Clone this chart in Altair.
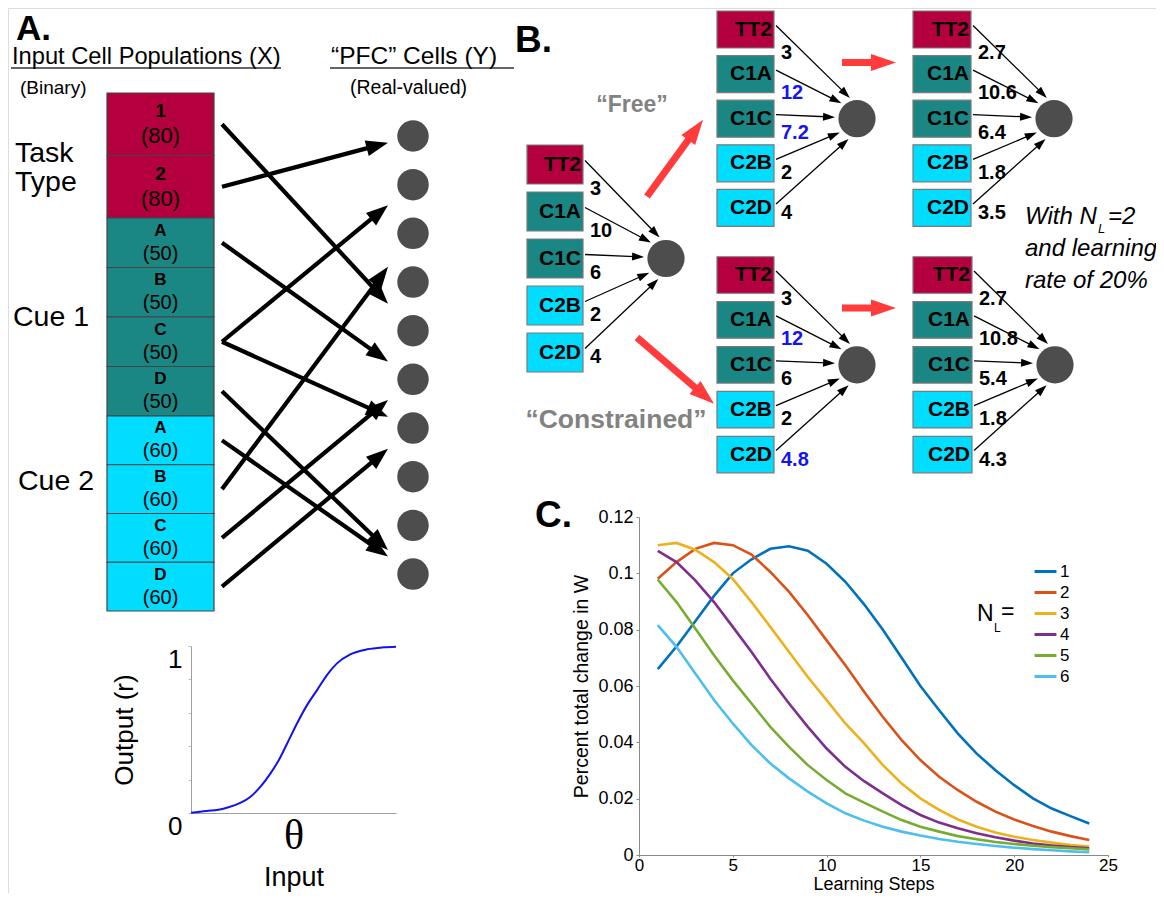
import math
import altair as alt
import pandas as pd

# ======================= DATA =======================
# Panel A
A_box_letters = ["1", "2", "A", "B", "C", "D", "A", "B", "C", "D"]
A_box_counts = [80, 80, 50, 50, 50, 50, 60, 60, 60, 60]
A_box_group = [0, 0, 1, 1, 1, 1, 2, 2, 2, 2]
A_group_labels = [["Task", "Type"], ["Cue 1"], ["Cue 2"]]
A_link_src = [0, 1, 2, 4, 4, 5, 6, 7, 8, 9]
A_link_dst = [4, 0, 5, 1, 6, 9, 9, 2, 5, 6]
A_n_cells = 10

# Panel B
B_inputs = ["TT2", "C1A", "C1C", "C2B", "C2D"]
B_input_group = [0, 1, 1, 2, 2]
B_w_init = [3, 10, 6, 2, 4]
B_w_free_1 = [3, 12, 7.2, 2, 4]
B_w_free_2 = [2.7, 10.6, 6.4, 1.8, 3.5]
B_w_con_1 = [3, 12, 6, 2, 4.8]
B_w_con_2 = [2.7, 10.8, 5.4, 1.8, 4.3]
B_chg_free_1 = [0, 1, 1, 0, 0]
B_chg_con_1 = [0, 1, 0, 0, 1]

# Panel C
C_steps = list(range(1, 25))
C_names = ["1", "2", "3", "4", "5", "6"]
C_nl1 = [0.066, 0.074, 0.083, 0.092, 0.100, 0.105, 0.1087, 0.1096, 0.108, 0.1034, 0.097, 0.089,
         0.080, 0.070, 0.060, 0.0514, 0.0431, 0.036, 0.0301, 0.0248, 0.0201, 0.0165, 0.0138, 0.0112]
C_nl2 = [0.0981, 0.104, 0.1087, 0.1108, 0.110, 0.1067, 0.1005, 0.0934, 0.0851, 0.0762, 0.0674, 0.058,
         0.049, 0.0408, 0.0337, 0.0278, 0.023, 0.0189, 0.0154, 0.0126, 0.0103, 0.0083, 0.0067, 0.0053]
C_nl3 = [0.110, 0.1108, 0.1084, 0.104, 0.098, 0.0898, 0.081, 0.0721, 0.0632, 0.055, 0.0467, 0.0396,
         0.0319, 0.0254, 0.0201, 0.016, 0.0126, 0.010, 0.008, 0.0065, 0.0053, 0.0044, 0.0035, 0.003]
C_nl4 = [0.108, 0.104, 0.0975, 0.0898, 0.081, 0.0721, 0.0626, 0.0538, 0.0455, 0.0378, 0.0313, 0.0262,
         0.0219, 0.0177, 0.0142, 0.0115, 0.0095, 0.0077, 0.0063, 0.0051, 0.0041, 0.0034, 0.0028, 0.0024]
C_nl5 = [0.0978, 0.0898, 0.0804, 0.0709, 0.062, 0.0538, 0.0455, 0.0384, 0.0319, 0.0266, 0.0219, 0.0186,
         0.0154, 0.0124, 0.010, 0.0083, 0.0067, 0.0056, 0.0046, 0.0039, 0.0033, 0.0028, 0.0024, 0.002]
C_nl6 = [0.0816, 0.0739, 0.0644, 0.055, 0.0467, 0.039, 0.0325, 0.0272, 0.0225, 0.0183, 0.0148, 0.0122,
         0.010, 0.0083, 0.0069, 0.0057, 0.0047, 0.0039, 0.0032, 0.0026, 0.0021, 0.0017, 0.0013, 0.001]
C_colors = ["#0072BD", "#D95319", "#EDB120", "#7E2F8E", "#77AC30", "#4DBEEE"]
C_x_ticks = [0, 5, 10, 15, 20, 25]
C_y_ticks = [0, 0.02, 0.04, 0.06, 0.08, 0.1, 0.12]

# Sigmoid inset
S_input = [0, 0.076, 0.158, 0.24, 0.289, 0.338, 0.387, 0.428, 0.469, 0.517, 0.566, 0.615,
           0.663, 0.712, 0.777, 0.859, 0.94, 1.0]
S_output = [0.002, 0.012, 0.026, 0.06, 0.096, 0.156, 0.236, 0.316, 0.416, 0.536, 0.646, 0.736,
            0.826, 0.896, 0.95, 0.98, 0.992, 0.996]
S_y_ticks = [0, 0.2, 0.4, 0.6, 0.8, 1]

# ======================= LAYOUT / STYLE =======================
FONT = "Liberation Sans"
GROUP_COLORS = ["#B4003E", "#1A8784", "#00DDFF"]
CELL_COLOR = "#4D4D4D"
RED = "#FF3B3B"
BLUE_TXT = "#1414F0"
GRAY_TXT = "#828282"

CX = alt.Scale(domain=[8, 1156], range=[0, 1148], nice=False, zero=False)
CY = alt.Scale(domain=[8, 893], range=[0, 885], nice=False, zero=False)


def ex(f="x"):
    return alt.X(f"{f}:Q", scale=CX, axis=None)


def ey(f="y"):
    return alt.Y(f"{f}:Q", scale=CY, axis=None)


texts, rects, rules, circles = [], [], [], []
arrow_sets = []


def T(x, y, text, size, color="black", weight="normal", italic=False, align="left", font=FONT):
    texts.append(dict(x=x, y=y, text=str(text), size=size, color=color, weight=weight,
                      italic=italic, align=align, font=font))


# ---------- Panel A ----------
T(16, 29, "A.", 35, weight="bold")
T(12, 57, "Input Cell Populations (X)", 23.7)
T(20, 88, "(Binary)", 19)
T(331, 57, "\u201cPFC\u201d Cells (Y)", 24.5)
T(350, 88, "(Real-valued)", 19.5)
rules.append(dict(x=11, y=68, x2=281, y2=68, color="#333333", w=1.5))
rules.append(dict(x=330, y=68, x2=514, y2=68, color="#333333", w=1.5))

A_BOX_L, A_BOX_R, A_BOX_TOP = 107, 214, 93
A_GROUP_BOX_H = [62.5, 49.5, 48.75]
A_GROUP_LABEL_X = [15, 13, 18]
A_GROUP_LABEL_Y = [153, 317, 481]
A_CELL_X, A_CELL_Y0, A_CELL_DY, A_CELL_D = 413, 136, 48.67, 35.5
A_LINK_X0, A_LINK_TIP_X = 222, 388

box_centers = []
ytop = A_BOX_TOP
for i, g in enumerate(A_box_group):
    h = A_GROUP_BOX_H[g]
    rects.append(dict(x=A_BOX_L, y=ytop, x2=A_BOX_R, y2=ytop + h, color=GROUP_COLORS[g],
                      stroke="#444444"))
    c = ytop + h / 2
    box_centers.append(c)
    big = g == 0
    T((A_BOX_L + A_BOX_R) / 2, c - 13 if big else c - 12, A_box_letters[i], 19 if big else 17,
      weight="bold", align="center")
    T((A_BOX_L + A_BOX_R) / 2, c + 12 if big else c + 11, f"({A_box_counts[i]})", 22 if big else 20,
      align="center")
    ytop += h

for g, lines in enumerate(A_group_labels):
    for k, line in enumerate(lines):
        T(A_GROUP_LABEL_X[g], A_GROUP_LABEL_Y[g] + 29 * k, line, 28.5)

cell_y = [A_CELL_Y0 + A_CELL_DY * i for i in range(A_n_cells)]
for yy in cell_y:
    circles.append(dict(x=A_CELL_X, y=yy, size=math.pi * (A_CELL_D / 2) ** 2))

segA = []
for s, d in zip(A_link_src, A_link_dst):
    y0 = box_centers[s]
    y1 = y0 + (cell_y[d] - y0) * (A_LINK_TIP_X - A_LINK_X0) / (A_CELL_X - A_LINK_X0)
    segA.append((A_LINK_X0, y0, A_LINK_TIP_X, y1))
arrow_sets.append(dict(segs=segA, color="black", width=4.2, head_len=22, head_w=16))

# ---------- Panel B ----------
T(515, 41, "B.", 37, weight="bold")
B_nodes = [
    dict(w=B_w_init, chg=[0] * 5, l=527, r=583, y0=164.5, dy=47.0, h=39),
    dict(w=B_w_free_1, chg=B_chg_free_1, l=717, r=774, y0=29.5, dy=44.6, h=37),
    dict(w=B_w_free_2, chg=[0] * 5, l=913, r=971, y0=29.5, dy=44.6, h=37),
    dict(w=B_w_con_1, chg=B_chg_con_1, l=717, r=774, y0=275, dy=44.9, h=36.5),
    dict(w=B_w_con_2, chg=[0] * 5, l=913, r=972, y0=275, dy=44.9, h=36.5),
]
B_R = 21
segB = []
for nd in B_nodes:
    ccx, ccy = nd["r"] + 83, nd["y0"] + 2 * nd["dy"]
    nd["cx"], nd["cy"] = ccx, ccy
    circles.append(dict(x=ccx, y=ccy, size=math.pi * B_R ** 2))
    for i, name in enumerate(B_inputs):
        yc = nd["y0"] + i * nd["dy"]
        rects.append(dict(x=nd["l"], y=yc - nd["h"] / 2, x2=nd["r"], y2=yc + nd["h"] / 2,
                          color=GROUP_COLORS[B_input_group[i]], stroke="#7a7a7a"))
        T(nd["r"] - 2, yc, name, 21, weight="bold", align="right")
        sx, sy = nd["r"] + 2, yc - 4
        a = math.atan2(sy - ccy, sx - ccx)
        dev = (a % (2 * math.pi)) - math.pi
        ta = math.pi + dev * 1.45
        tx, ty = ccx + (B_R + 1) * math.cos(ta), ccy + (B_R + 1) * math.sin(ta)
        segB.append((sx, sy, tx, ty))
        lx = nd["r"] + 7
        ly = sy + (ty - sy) * (lx + 5 - sx) / (tx - sx) + 18
        T(lx, ly, f"{nd['w'][i]:g}", 20, color=BLUE_TXT if nd["chg"][i] else "black", weight="bold")
arrow_sets.append(dict(segs=segB, color="black", width=1.3, head_len=12, head_w=8))

n0, n1, n2, n3, n4 = B_nodes
segR = [
    (n0["r"] + 64, n0["y0"] + 32, n1["l"] - 14, n1["cy"] + 1),
    (n0["r"] + 54, n0["y0"] + 4 * n0["dy"] - 15, n3["l"] - 3, n3["cy"] + 39),
    (n1["r"] + 68, n1["y0"] + 33, n1["r"] + 122, n1["y0"] + 33),
    (n3["r"] + 68, n3["y0"] + 33, n3["r"] + 122, n3["y0"] + 33),
]
arrow_sets.append(dict(segs=segR, color=RED, width=7, head_len=25, head_w=17))

T(632, 105, "\u201cFree\u201d", 23, color=GRAY_TXT, weight="bold", align="center")
T(616, 420, "\u201cConstrained\u201d", 26.5, color=GRAY_TXT, weight="bold", align="center")

T(1025, 217, "With N", 24, italic=True)
T(1098, 229, "L", 13, italic=True)
T(1108, 217, "=2", 24, italic=True)
T(1025, 249, "and learning", 24, italic=True)
T(1025, 281, "rate of 20%", 24, italic=True)

# ---------- Panel C labels ----------
T(535, 516, "C.", 37, weight="bold")
T(977, 614, "N", 23)
T(994, 628, "L", 12)
T(1001, 612, "=", 23)

# ======================= BUILD CANVAS LAYERS =======================
layers = []
layers.append(
    alt.Chart(pd.DataFrame(rects)).mark_rect(strokeWidth=1.2).encode(
        x=ex(), y=ey(), x2="x2:Q", y2="y2:Q",
        color=alt.Color("color:N", scale=None),
        stroke=alt.Stroke("stroke:N", scale=None))
)
layers.append(
    alt.Chart(pd.DataFrame(rules)).mark_rule(strokeCap="butt").encode(
        x=ex(), y=ey(), x2="x2:Q", y2="y2:Q",
        color=alt.Color("color:N", scale=None),
        strokeWidth=alt.StrokeWidth("w:Q", scale=None))
)
layers.append(
    alt.Chart(pd.DataFrame(circles)).mark_circle(opacity=1, color=CELL_COLOR).encode(
        x=ex(), y=ey(), size=alt.Size("size:Q", scale=None))
)

for aset in arrow_sets:
    shafts, heads = [], []
    hl = aset["head_len"]
    for (x0, y0, x1, y1) in aset["segs"]:
        dx, dy = x1 - x0, y1 - y0
        L = math.hypot(dx, dy)
        ux, uy = dx / L, dy / L
        shafts.append(dict(x=x0, y=y0, x2=x1 - ux * hl * 0.75, y2=y1 - uy * hl * 0.75))
        heads.append(dict(x=x1, y=y1, ang=math.degrees(math.atan2(ux, -uy)) % 360))
    hw = aset["head_w"] / hl
    shape = f"M0,0L{hw:.3f},2L{-hw:.3f},2Z"
    layers.append(
        alt.Chart(pd.DataFrame(shafts)).mark_rule(color=aset["color"], strokeWidth=aset["width"],
                                                  strokeCap="butt").encode(
            x=ex(), y=ey(), x2="x2:Q", y2="y2:Q")
    )
    layers.append(
        alt.Chart(pd.DataFrame(heads)).mark_point(shape=shape, filled=True, opacity=1,
                                                  color=aset["color"], strokeWidth=0,
                                                  size=hl ** 2).encode(
            x=ex(), y=ey(), angle=alt.Angle("ang:Q", scale=None))
    )

tdf = pd.DataFrame(texts)
for (weight, italic, align, font), sub in tdf.groupby(["weight", "italic", "align", "font"]):
    layers.append(
        alt.Chart(sub.drop(columns=["weight", "italic", "align", "font"])).mark_text(
            font=font, fontWeight=weight, fontStyle="italic" if italic else "normal",
            align=align, baseline="middle").encode(
            x=ex(), y=ey(), text="text:N",
            size=alt.Size("size:Q", scale=None),
            color=alt.Color("color:N", scale=None))
    )

canvas = alt.layer(*layers)

# ======================= PANEL C (line chart) =======================
c_rows = []
for name, series in zip(C_names, [C_nl1, C_nl2, C_nl3, C_nl4, C_nl5, C_nl6]):
    for s, v in zip(C_steps, series):
        c_rows.append(dict(step=s, value=v, NL=name))

panel_c = alt.Chart(pd.DataFrame(c_rows)).mark_line(strokeWidth=2.6).encode(
    x=alt.X("step:Q", scale=alt.Scale(domain=[0, 25], range=[631, 1100], nice=False, zero=False),
            axis=alt.Axis(orient="bottom", offset=-38, values=C_x_ticks,
                          labelExpr="format(datum.value, '~g')", grid=False,
                          labelFlush=False, labelFont=FONT, labelFontSize=17, labelColor="black",
                          labelPadding=0, tickSize=2, tickColor="#8a8a8a", domainColor="#8a8a8a",
                          title="Learning Steps", titleFont=FONT, titleFontSize=18,
                          titleFontWeight="normal", titleColor="black",
                          titleBaseline="alphabetic", titleY=34.5)),
    y=alt.Y("value:Q", scale=alt.Scale(domain=[0, 0.12], range=[847, 509], nice=False, zero=False),
            axis=alt.Axis(orient="left", offset=-631, values=C_y_ticks,
                          labelExpr="format(datum.value, '~g')", grid=False,
                          labelFont=FONT, labelFontSize=18, labelColor="black", labelPadding=3,
                          tickSize=3, tickColor="#8a8a8a", domainColor="#8a8a8a",
                          title="Percent total change in W", titleFont=FONT, titleFontSize=19.5,
                          titleFontWeight="normal", titleColor="black", titlePadding=6)),
    color=alt.Color("NL:N", scale=alt.Scale(domain=C_names, range=C_colors),
                    legend=alt.Legend(title=None, orient="none", legendX=1025, legendY=551,
                                      symbolType="stroke", symbolStrokeWidth=3, symbolSize=480,
                                      labelFont=FONT, labelFontSize=17, labelColor="black",
                                      rowPadding=0, padding=0, labelOffset=2)),
)

# ======================= SIGMOID INSET =======================
sig = alt.Chart(pd.DataFrame(dict(inp=S_input, out=S_output))).mark_line(
    color="#1212EE", strokeWidth=2, interpolate="monotone").encode(
    x=alt.X("inp:Q", scale=alt.Scale(domain=[0, 1], range=[183, 388], nice=False, zero=False),
            axis=alt.Axis(orient="bottom", offset=-80, values=[0.5], labelExpr="'\u03b8'", ticks=False,
                          grid=False, labelFont="Liberation Serif", labelFontSize=42,
                          labelColor="black", labelPadding=2, labelFlush=False,
                          domainColor="#a0a0a0", title="Input", titleFont=FONT, titleFontSize=27,
                          titleFontWeight="normal", titleColor="black", titlePadding=8)),
    y=alt.Y("out:Q", scale=alt.Scale(domain=[0, 1], range=[805, 638], nice=False, zero=False),
            axis=alt.Axis(orient="left", offset=-183, values=S_y_ticks, grid=False,
                          labelExpr="datum.value == 0 ? '0' : (datum.value == 1 ? '1' : '')",
                          labelBaseline="top", labelFont=FONT, labelFontSize=26, labelColor="black",
                          labelPadding=6, tickSize=3, tickColor="#bbbbbb", domainColor="#a0a0a0",
                          title="Output (r)", titleFont=FONT, titleFontSize=26,
                          titleFontWeight="normal", titleColor="black", titlePadding=30)),
)

chart = alt.layer(canvas, panel_c, sig).resolve_scale(
    x="independent", y="independent", color="independent", size="independent"
).properties(
    width=1148, height=885, padding=0, autosize=alt.AutoSizeParams(type="none")
).configure_view(strokeWidth=0).configure(background="white", font=FONT)

chart.save("out.html", embed_options={"renderer": "svg", "actions": False})
